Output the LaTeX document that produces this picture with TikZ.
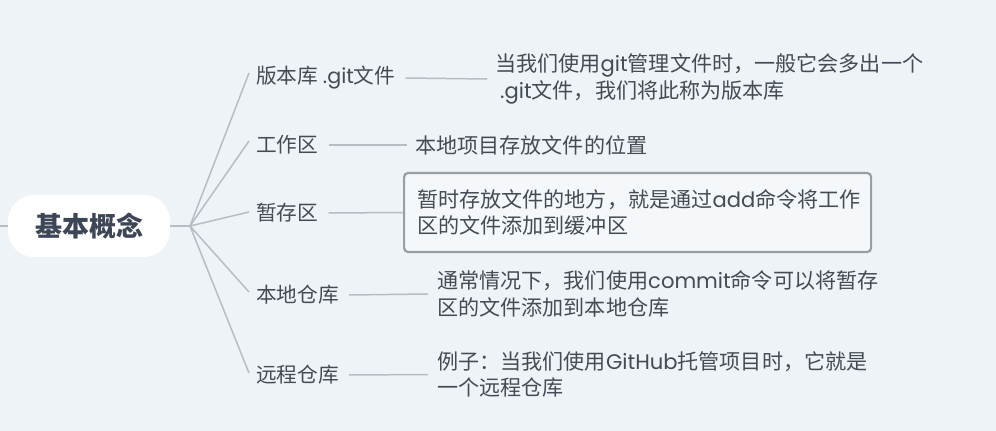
\documentclass[tikz,border=0pt]{standalone}
\usepackage{fontspec}
\setmainfont{Noto Sans CJK SC}
\newfontfamily\lat{Poppins}
\definecolor{bgc}{HTML}{EEF3F7}
\definecolor{linec}{HTML}{B6BDC5}
\definecolor{txtc}{HTML}{454B54}
\definecolor{rootc}{HTML}{3D4657}
\definecolor{boxc}{HTML}{9A9DA1}
\tikzset{
  conn/.style={draw=linec, line width=1.5pt},
  rootnode/.style={fill=white, rounded corners=26pt, minimum width=162pt, minimum height=62pt, inner sep=0pt,
    text=rootc, font=\fontsize{27}{32}\selectfont\bfseries},
  child/.style={anchor=west, inner sep=0pt, text=txtc, font=\fontsize{20.7}{26}\selectfont},
  detail/.style={anchor=west, inner sep=0pt, align=left, text=txtc, font=\fontsize{21.1}{26.5}\selectfont},
  selbox/.style={anchor=west, draw=boxc, line width=2.2pt, rounded corners=4pt, fill=white!40!bgc,
    text width=441pt, inner xsep=13pt, minimum height=79pt, align=left, text=txtc,
    font=\fontsize{21.1}{26.5}\selectfont}
}
\begin{document}
\begin{tikzpicture}[x=1pt,y=-1pt]
\path[fill=bgc] (0,0) rectangle (996,431);
\useasboundingbox (0,0) rectangle (996,431);

\node[rootnode] (root) at (89,226) {基本概念};
\coordinate (lend) at (0,226);
\coordinate (hub) at (190,226);
\draw[conn] (lend) -- (root.west);
\draw[conn] (root.east) -- (hub);

\node[child] (c1) at (256,78) {版本库 {\lat .git}文件};
\node[child] (c2) at (256,145) {工作区};
\node[child] (c3) at (256,213) {暂存区};
\node[child] (c4) at (256,295) {本地仓库};
\node[child] (c5) at (256,375) {远程仓库};

\coordinate (e1) at (249,73);
\coordinate (e2) at (249,141);
\coordinate (e3) at (249,212);
\coordinate (e4) at (249,292);
\coordinate (e5) at (249,373);
\foreach \e in {e1,e2,e3,e4,e5} \draw[conn] (hub) -- (\e);

\node[detail] (d1) at (495,79) {当我们使用{\lat git}管理文件时，一般它会多出一个\\\hspace*{5pt}{\lat .git}文件，我们将此称为版本库};
\node[detail] (d2) at (415,145) {本地项目存放文件的位置};
\node[selbox] (d3) at (403,212.5) {暂时存放文件的地方，就是通过{\lat add}命令将工作\\区的文件添加到缓冲区};
\node[detail] (d4) at (437,294) {通常情况下，我们使用{\lat commit}命令可以将暂存\\区的文件添加到本地仓库};
\node[detail] (d5) at (437,374.5) {例子：当我们使用{\lat GitHub}托管项目时，它就是\\一个远程仓库};

\draw[conn] ([xshift=10pt]c1.east) -- ([xshift=-8pt]d1.west);
\draw[conn] ([xshift=10pt]c2.east) -- ([xshift=-8pt]d2.west);
\draw[conn] ([xshift=10pt]c3.east) -- (d3.west);
\draw[conn] ([xshift=10pt]c4.east) -- ([xshift=-9pt]d4.west);
\draw[conn] ([xshift=10pt]c5.east) -- ([xshift=-9pt]d5.west);
\end{tikzpicture}
\end{document}
